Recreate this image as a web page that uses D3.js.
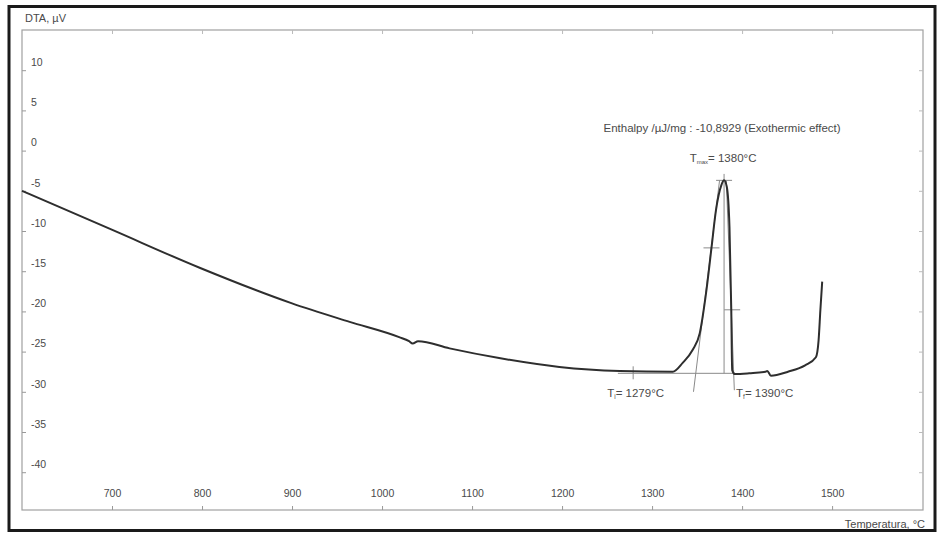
<!DOCTYPE html>
<html>
<head>
<meta charset="utf-8">
<script src="https://cdn.jsdelivr.net/npm/d3@7"></script>
<style>
  body { margin: 0; background: #fff; }
  svg { display: block; font-family: "Liberation Sans", Arial, sans-serif; }
</style>
</head>
<body>
<div id="wrapper"></div>
<script>
// DTA curve: temperature (°C) and signal (µV)
const temperature = [600, 701, 798, 900, 964, 1019, 1030, 1034, 1040, 1075, 1130, 1197, 1264, 1323,
    1334, 1345, 1353, 1360, 1366, 1371, 1377, 1380, 1383, 1386, 1388, 1389, 1392,
    1408, 1426, 1428, 1432, 1451, 1470, 1482, 1485, 1487, 1489]
const dta = [-5.0, -9.9, -14.6, -19.0, -21.3, -23.2, -23.7, -24.0, -23.7, -24.6, -25.8, -26.9, -27.4, -27.5,
    -26.4, -24.8, -22.7, -17.7, -12.1, -7.4, -4.3, -3.7, -4.5, -9.5, -19.8, -27.3, -27.8,
    -27.7, -27.5, -27.4, -28.0, -27.5, -26.7, -25.7, -23.6, -19.8, -16.3]

const xTicks = [700, 800, 900, 1000, 1100, 1200, 1300, 1400, 1500]
const yTicks = [10, 5, 0, -5, -10, -15, -20, -25, -30, -35, -40]

// peak analysis
const onsetT = 1279
const peakT = 1380
const endT = 1390
const baselineValue = -27.7
const riseTangent = [[1346, -30.0], [1375, -3.7]]
const fallTangent = [[1382.5, -3.7], [1391.4, -29.8]]
const crossMarks = [[1366, -12.1], [1380, -3.7], [1389, -19.8]]

const dimensions = {
    width: 941,
    height: 535,
    margin: { top: 30, right: 18, bottom: 25, left: 22 },
}
dimensions.boundedWidth = dimensions.width - dimensions.margin.left - dimensions.margin.right
dimensions.boundedHeight = dimensions.height - dimensions.margin.top - dimensions.margin.bottom

const wrapper = d3.select("#wrapper")
    .append("svg")
    .attr("width", dimensions.width)
    .attr("height", dimensions.height)

// outer black frame
wrapper.append("rect")
    .attr("x", 9).attr("y", 6.5)
    .attr("width", 926).attr("height", 524)
    .attr("fill", "none")
    .attr("stroke", "#1a1a1a")
    .attr("stroke-width", 3)

const bounds = wrapper.append("g")
    .attr("transform", `translate(${dimensions.margin.left},${dimensions.margin.top})`)

const xScale = d3.scaleLinear()
    .domain([600, 1601])
    .range([0, dimensions.boundedWidth])

const yScale = d3.scaleLinear()
    .domain([-44.7, 15])
    .range([dimensions.boundedHeight, 0])

// plot frame
bounds.append("rect")
    .attr("width", dimensions.boundedWidth)
    .attr("height", dimensions.boundedHeight)
    .attr("fill", "none")
    .attr("stroke", "#a0a0a0")
    .attr("stroke-width", 1.2)

const textColor = "#4a4a4a"

// axes, ticks drawn inward on all four sides
const xAxis = bounds.append("g")
    .attr("transform", `translate(0,${dimensions.boundedHeight})`)
    .call(d3.axisBottom(xScale).tickValues(xTicks).tickSize(-4).tickSizeOuter(0).tickFormat(d => String(d)))
xAxis.select(".domain").remove()
xAxis.selectAll("line").attr("stroke", "#999")
xAxis.selectAll("text")
    .attr("y", -13).attr("dy", 0)
    .attr("fill", textColor)
    .style("font-size", "10.5px")

bounds.append("g")
    .call(d3.axisTop(xScale).tickValues(xTicks).tickSize(-4).tickFormat(""))
    .call(g => g.select(".domain").remove())
    .selectAll("line").attr("stroke", "#bbb")

const yAxis = bounds.append("g")
    .call(d3.axisLeft(yScale).tickValues(yTicks).tickSize(-4).tickSizeOuter(0).tickFormat(d => String(d)))
yAxis.select(".domain").remove()
yAxis.selectAll("line").attr("stroke", "#999")
yAxis.selectAll("text")
    .attr("x", 9).attr("dy", "-0.45em")
    .attr("text-anchor", "start")
    .attr("fill", textColor)
    .style("font-size", "10.5px")

bounds.append("g")
    .attr("transform", `translate(${dimensions.boundedWidth},0)`)
    .call(d3.axisRight(yScale).tickValues(yTicks).tickSize(-4).tickFormat(""))
    .call(g => g.select(".domain").remove())
    .selectAll("line").attr("stroke", "#bbb")

// axis titles
wrapper.append("text")
    .attr("x", 25).attr("y", 22)
    .attr("fill", textColor)
    .style("font-size", "11px")
    .text("DTA, µV")

wrapper.append("text")
    .attr("x", 925).attr("y", 528)
    .attr("text-anchor", "end")
    .attr("fill", textColor)
    .style("font-size", "11px")
    .text("Temperatura, °C")

// analysis construction lines
const helper = bounds.append("g")
    .attr("stroke", "#8a8a8a")
    .attr("stroke-width", 1)
    .attr("fill", "none")

helper.append("line")
    .attr("x1", xScale(1262)).attr("x2", xScale(1392))
    .attr("y1", yScale(baselineValue)).attr("y2", yScale(baselineValue))

helper.append("line")
    .attr("x1", xScale(onsetT)).attr("x2", xScale(onsetT))
    .attr("y1", yScale(baselineValue) - 7).attr("y2", yScale(baselineValue) + 6)

helper.append("line")
    .attr("x1", xScale(peakT)).attr("x2", xScale(peakT))
    .attr("y1", yScale(-2.9)).attr("y2", yScale(baselineValue))

const lineGenerator = d3.line()
    .x(d => xScale(d[0]))
    .y(d => yScale(d[1]))

helper.append("path").attr("d", lineGenerator(riseTangent))
helper.append("path").attr("d", lineGenerator(fallTangent))

helper.selectAll(".cross")
    .data(crossMarks)
    .join("line")
    .attr("x1", d => xScale(d[0]) - 8)
    .attr("x2", d => xScale(d[0]) + 8)
    .attr("y1", d => yScale(d[1]))
    .attr("y2", d => yScale(d[1]))

// DTA curve
const curve = d3.line()
    .x((d, i) => xScale(temperature[i]))
    .y(d => yScale(d))
    .curve(d3.curveMonotoneX)

bounds.append("path")
    .attr("d", curve(dta))
    .attr("fill", "none")
    .attr("stroke", "#2e2e2e")
    .attr("stroke-width", 2)

// annotations
const labels = bounds.append("g")
    .attr("fill", textColor)
    .style("font-size", "11.5px")

labels.append("text")
    .attr("x", xScale(peakT) - 2).attr("y", yScale(2.3))
    .attr("text-anchor", "middle")
    .text("Enthalpy /µJ/mg : -10,8929 (Exothermic effect)")

const tMax = labels.append("text")
    .attr("x", xScale(peakT) - 1).attr("y", yScale(-1.4))
    .attr("text-anchor", "middle")
tMax.append("tspan").text("T")
tMax.append("tspan").attr("dy", 2).style("font-size", "6px").text("max")
tMax.append("tspan").attr("dy", -2).text("= 1380°C")

const tOn = labels.append("text")
    .attr("x", xScale(onsetT) - 26).attr("y", yScale(-30.7))
tOn.append("tspan").text("T")
tOn.append("tspan").attr("dy", 2).style("font-size", "6.5px").text("i")
tOn.append("tspan").attr("dy", -2).text("= 1279°C")

const tEnd = labels.append("text")
    .attr("x", xScale(endT) + 3).attr("y", yScale(-30.7))
tEnd.append("tspan").text("T")
tEnd.append("tspan").attr("dy", 2).style("font-size", "6.5px").text("f")
tEnd.append("tspan").attr("dy", -2).text("= 1390°C")
</script>
</body>
</html>
